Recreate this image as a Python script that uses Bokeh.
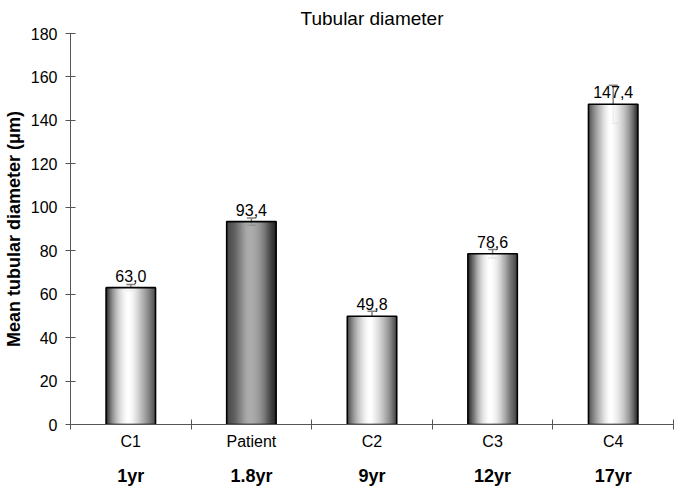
import numpy as np
from bokeh.plotting import figure
from bokeh.models import (ColumnDataSource, FixedTicker, LinearAxis, Range1d,
                          Whisker, TeeHead)
from bokeh.core.properties import value
from bokeh.embed import file_html
from bokeh.resources import INLINE

# ---- data ----
groups = ["C1", "Patient", "C2", "C3", "C4"]
ages = ["1yr", "1.8yr", "9yr", "12yr", "17yr"]
means = [63.0, 93.4, 49.8, 78.6, 147.4]
errors = [1.5, 1.7, 2.3, 2.0, 8.8]
is_patient = [False, True, False, False, False]
y_ticks = [0, 20, 40, 60, 80, 100, 120, 140, 160, 180]

FONT = "Liberation Sans"
BAR_W = 0.41
N_STRIPS = 48

p = figure(width=677, height=488, output_backend="svg", toolbar_location=None,
           x_range=Range1d(0, len(groups)), y_range=Range1d(0, 180),
           x_axis_location=None, min_border_left=50, min_border_right=4,
           min_border_top=0, min_border_bottom=0)
p.title.text = "Tubular diameter"
p.title.align = "center"
p.title.text_font = FONT
p.title.text_font_size = "19px"
p.title.text_font_style = "normal"
p.title.text_color = "black"
p.title.offset = 0
p.title.standoff = 10
p.grid.visible = False
p.outline_line_color = None
p.background_fill_color = "white"

# y axis
ya = p.yaxis[0]
ya.ticker = FixedTicker(ticks=y_ticks, minor_ticks=[])
ya.axis_label = "Mean tubular diameter (\u03bcm)"
ya.axis_label_text_font = FONT
ya.axis_label_text_font_style = "bold"
ya.axis_label_text_font_size = "18px"
ya.axis_label_text_color = "black"
ya.axis_label_standoff = 4
ya.major_label_text_font = FONT
ya.major_label_text_font_size = "16px"
ya.major_label_text_color = "black"
ya.major_tick_in = 5
ya.major_tick_out = 5
ya.minor_tick_line_color = None
ya.axis_line_color = "#555555"
ya.major_tick_line_color = "#555555"
ya.major_label_standoff = 8

centers = [i + 0.5 for i in range(len(groups))]

# x axis: group labels at centers, ticks at boundaries (as minor ticks)
xa = LinearAxis(ticker=FixedTicker(ticks=centers,
                                   minor_ticks=list(range(len(groups) + 1))))
xa.major_label_overrides = {c: g for c, g in zip(centers, groups)}
xa.major_tick_line_color = None
xa.major_tick_out = 0
xa.major_tick_in = 0
xa.minor_tick_in = 5
xa.minor_tick_out = 5
xa.minor_tick_line_color = "#555555"
xa.axis_line_color = "#555555"
xa.major_label_text_font = FONT
xa.major_label_text_font_size = "16px"
xa.major_label_text_color = "black"
xa.major_label_standoff = 3
p.add_layout(xa, "below")

xb = LinearAxis(ticker=FixedTicker(ticks=centers, minor_ticks=[]))
xb.major_label_overrides = {c: a for c, a in zip(centers, ages)}
xb.axis_line_color = None
xb.major_tick_line_color = None
xb.minor_tick_line_color = None
xb.major_tick_out = 0
xb.major_tick_in = 0
xb.major_label_text_font = FONT
xb.major_label_text_font_size = "18px"
xb.major_label_text_font_style = "bold"
xb.major_label_text_color = "black"
xb.major_label_standoff = 13
p.add_layout(xb, "below")


# ---- shaded cylinder bars built from strips ----
def shade(t, lo, hi, peak=0.45):
    d = (t - peak) / (peak if t < peak else 1 - peak)
    b = lo + (hi - lo) * (1 - abs(d) ** 1.6)
    g = int(round(max(0, min(1, b)) * 255))
    return "#%02x%02x%02x" % (g, g, g)


sx, stop, scol = [], [], []
for c, m, pat in zip(centers, means, is_patient):
    lo, hi = (0.13, 0.62) if pat else (0.13, 1.0)
    for k in range(N_STRIPS):
        t = (k + 0.5) / N_STRIPS
        sx.append(c + (t - 0.5) * BAR_W)
        stop.append(m)
        scol.append(shade(t, lo, hi))
strips = ColumnDataSource(dict(x=sx, top=stop, color=scol))
p.vbar(x="x", top="top", bottom=0, width=BAR_W / N_STRIPS * 1.15,
       fill_color="color", line_color=None, source=strips)

bars = ColumnDataSource(dict(
    x=centers, top=means,
    upper=[m + e for m, e in zip(means, errors)],
    lower=[m - e for m, e in zip(means, errors)],
    label=[("%.1f" % m).replace(".", ",") for m in means]))
p.vbar(x="x", top="top", bottom=0, width=BAR_W, fill_color=None,
       line_color="black", line_width=1.6, source=bars)

wk = Whisker(base="x", upper="upper", lower="lower", source=bars,
             line_color="#808080", line_width=1.5,
             upper_head=TeeHead(size=9, line_color="#808080", line_width=1.5),
             lower_head=TeeHead(size=9, line_color="#808080", line_width=1.5))
p.add_layout(wk)

p.text(x="x", y="top", text="label", source=bars, text_align="center",
       text_baseline="alphabetic", y_offset=-12, text_font=value(FONT),
       text_font_size="16px", text_color="black")

open("out.html", "w").write(file_html(p, INLINE))
